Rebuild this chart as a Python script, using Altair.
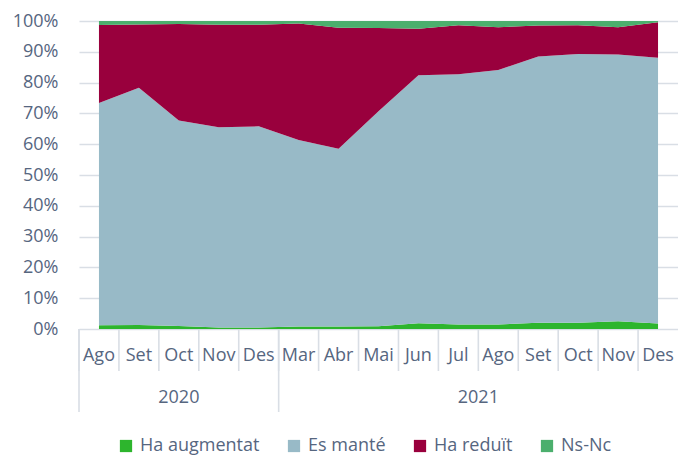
import altair as alt
import pandas as pd

# Months shown on the category axis, grouped by year
years = ["2020"] * 5 + ["2021"] * 10
months = ["Ago", "Set", "Oct", "Nov", "Des",
          "Mar", "Abr", "Mai", "Jun", "Jul", "Ago", "Set", "Oct", "Nov", "Des"]

# Share of answers per month (%)
series = ["Ha augmentat", "Es manté", "Ha reduït", "Ns-Nc"]
ha_augmentat = [1.2, 1.3, 1.0, 0.5, 0.5, 0.8, 0.8, 0.9, 1.9, 1.5, 1.5, 2.0, 2.0, 2.5, 1.8]
es_mante = [72.2, 77.0, 66.7, 65.0, 65.3, 60.6, 57.7, 69.8, 80.5, 81.2, 82.6, 86.5, 87.3, 86.6, 86.3]
ha_reduit = [25.3, 20.6, 31.3, 33.3, 33.0, 37.8, 39.3, 27.0, 15.1, 15.9, 13.9, 10.0, 9.3, 8.9, 11.5]
ns_nc = [1.3, 1.1, 1.0, 1.2, 1.2, 0.8, 2.2, 2.3, 2.5, 1.4, 2.0, 1.5, 1.4, 2.0, 0.4]

colors = ["#2DB52D", "#98BAC7", "#99003D", "#4BAF6D"]
text_color = "#56667F"
grid_color = "#D9DEE5"
font = "Open Sans"

W, H = 599, 308

rows = []
for k, (name, vals) in enumerate(zip(series, [ha_augmentat, es_mante, ha_reduit, ns_nc])):
    for i, v in enumerate(vals):
        rows.append({"idx": i, "serie": name, "ordre": k, "valor": v})
df = pd.DataFrame(rows)

xscale = alt.Scale(domain=[-0.5, len(months) - 0.5], nice=False, zero=False)

area = alt.Chart(df).mark_area(interpolate="linear").encode(
    x=alt.X("idx:Q", scale=xscale, axis=None),
    y=alt.Y("valor:Q", stack="normalize",
            scale=alt.Scale(domain=[0, 1], nice=False),
            axis=alt.Axis(format=".0%", values=[i / 10 for i in range(11)],
                          title=None, domain=False, ticks=False, tickSize=0,
                          labelPadding=21, labelFontSize=18, labelColor=text_color,
                          labelFont=font, grid=True, gridColor=grid_color,
                          gridWidth=1.6)),
    color=alt.Color("serie:N", sort=series,
                    scale=alt.Scale(domain=series, range=colors),
                    legend=alt.Legend(title=None, orient="none", direction="horizontal",
                                      legendX=38, legendY=416, symbolType="square",
                                      symbolSize=150, symbolStrokeWidth=0,
                                      labelFontSize=18, labelFont=font,
                                      labelColor=text_color, columnPadding=25,
                                      labelOffset=5, padding=0)),
    order=alt.Order("ordre:Q"),
)

# Category axis: month labels, year labels and separators
cats = pd.DataFrame({"idx": list(range(len(months))), "mes": months, "any": years})
bounds = pd.DataFrame({"b": [i - 0.5 for i in range(len(months))]})
year_starts = [i - 0.5 for i in range(len(years)) if i == 0 or years[i] != years[i - 1]]
year_bounds = pd.DataFrame({"b": year_starts})
year_centres = cats.groupby("any", as_index=False)["idx"].mean()

month_sep = alt.Chart(bounds).mark_rule(color=grid_color, strokeWidth=1.6).encode(
    x=alt.X("b:Q", scale=xscale),
    y=alt.value(H), y2=alt.value(H + 42),
)
year_sep = alt.Chart(year_bounds).mark_rule(color=grid_color, strokeWidth=1.6).encode(
    x=alt.X("b:Q", scale=xscale),
    y=alt.value(H), y2=alt.value(H + 83),
)
month_text = alt.Chart(cats).mark_text(fontSize=18, font=font, color=text_color,
                                       baseline="middle").encode(
    x=alt.X("idx:Q", scale=xscale),
    y=alt.value(H + 27),
    text="mes:N",
)
year_text = alt.Chart(year_centres).mark_text(fontSize=18, font=font, color=text_color,
                                              baseline="middle").encode(
    x=alt.X("idx:Q", scale=xscale),
    y=alt.value(H + 69),
    text="any:N",
)

chart = alt.layer(area, month_sep, year_sep, month_text, year_text).properties(
    width=W, height=H,
    padding={"left": 79, "top": 21, "right": 0, "bottom": 126},
    autosize=alt.AutoSizeParams(type="none"),
    background="white",
).configure_view(stroke=None)

chart.save("out.html", embed_options={"renderer": "svg", "actions": False})
